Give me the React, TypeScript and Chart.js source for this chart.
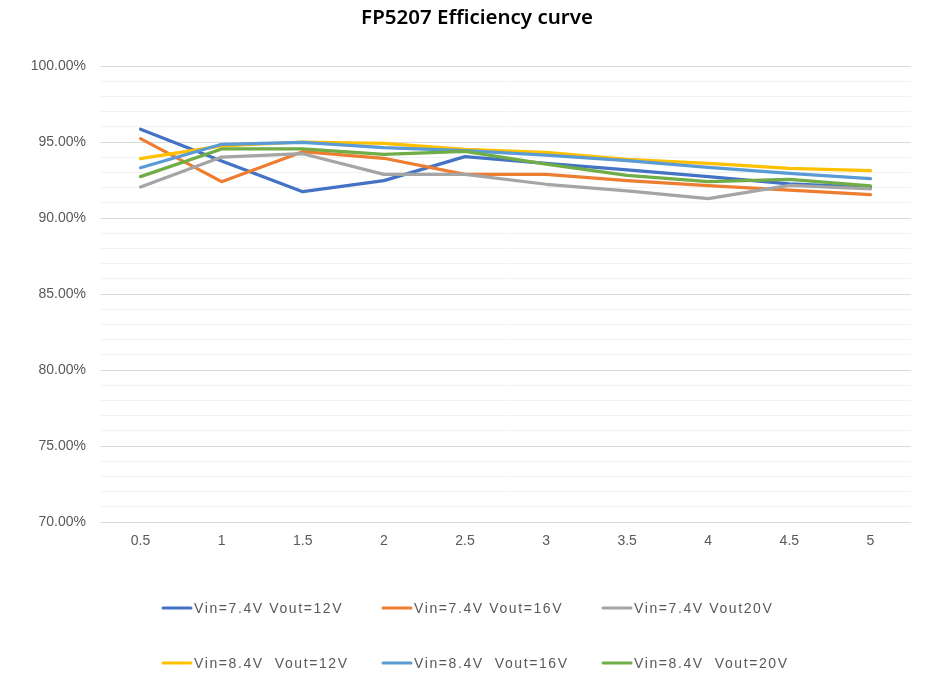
import React, { useEffect, useRef } from 'react';
import { Chart, registerables } from 'chart.js';

Chart.register(...registerables);

const TITLE = 'FP5207 Efficiency curve';
const loadCurrents = ['0.5', '1', '1.5', '2', '2.5', '3', '3.5', '4', '4.5', '5'];
const seriesLabels = [
  'Vin=7.4V Vout=12V',
  'Vin=7.4V Vout=16V',
  'Vin=7.4V Vout20V',
  'Vin=8.4V  Vout=12V',
  'Vin=8.4V  Vout=16V',
  'Vin=8.4V  Vout=20V',
];
const seriesColors = ['#4472C4', '#ED7D31', '#A5A5A5', '#FFC000', '#5B9BD5', '#70AD47'];
const vin74Vout12 = [95.84, 93.75, 91.73, 92.46, 94.04, 93.6, 93.16, 92.72, 92.24, 92.02];
const vin74Vout16 = [95.22, 92.39, 94.36, 93.93, 92.87, 92.87, 92.46, 92.13, 91.84, 91.53];
const vin74Vout20 = [92.04, 94.01, 94.23, 92.87, 92.87, 92.22, 91.78, 91.27, 92.15, 91.91];
const vin84Vout12 = [93.9, 94.75, 95.0, 94.91, 94.52, 94.32, 93.86, 93.6, 93.26, 93.11];
const vin84Vout16 = [93.31, 94.85, 94.98, 94.63, 94.43, 94.14, 93.77, 93.33, 92.94, 92.59];
const vin84Vout20 = [92.72, 94.54, 94.54, 94.19, 94.39, 93.55, 92.81, 92.39, 92.54, 92.11];
const allSeries = [vin74Vout12, vin74Vout16, vin74Vout20, vin84Vout12, vin84Vout16, vin84Vout20];
const yMin = 70;
const yMax = 100;

const W = 925;
const H = 691;

const titleLegendPlugin = {
  id: 'titleLegend',
  afterDraw(chart: any) {
    const ctx = chart.ctx as CanvasRenderingContext2D;
    ctx.save();
    ctx.font = '600 20.5px "Noto Sans", "Liberation Sans", sans-serif';
    ctx.fillStyle = '#000000';
    ctx.textAlign = 'center';
    ctx.textBaseline = 'middle';
    ctx.fillText(TITLE, 477, 18);

    const cols = [162, 382, 602];
    const rows = [608, 663];
    ctx.font = '14px "Liberation Sans", Arial, sans-serif';
    (ctx as any).letterSpacing = '1.6px';
    ctx.textAlign = 'left';
    chart.data.datasets.forEach((ds: any, i: number) => {
      const x = cols[i % 3];
      const y = rows[Math.floor(i / 3)];
      ctx.strokeStyle = ds.borderColor;
      ctx.lineWidth = 3;
      ctx.lineCap = 'round';
      ctx.beginPath();
      ctx.moveTo(x + 1, y);
      ctx.lineTo(x + 29, y);
      ctx.stroke();
      ctx.fillStyle = '#595959';
      ctx.fillText(ds.label, x + 32, y + 1);
    });
    ctx.restore();
  },
};

export default function App() {
  const ref = useRef<HTMLCanvasElement | null>(null);
  useEffect(() => {
    if (!ref.current) return;
    const chart = new Chart(ref.current, {
      type: 'line',
      data: {
        labels: loadCurrents,
        datasets: allSeries.map((d, i) => ({
          label: seriesLabels[i],
          data: d,
          borderColor: seriesColors[i],
          backgroundColor: seriesColors[i],
          borderWidth: 3.25,
          pointRadius: 0,
          pointHoverRadius: 0,
          tension: 0,
          borderCapStyle: 'round',
          borderJoinStyle: 'round',
          fill: false,
          order: -i,
        })),
      },
      options: {
        responsive: false,
        animation: false,
        devicePixelRatio: 1,
        layout: { padding: { top: 66, right: 14, bottom: 139, left: 0 } },
        plugins: {
          legend: { display: false },
          title: { display: false },
          tooltip: { enabled: false },
        },
        scales: {
          x: {
            offset: true,
            grid: { display: false, drawTicks: false },
            border: { display: false },
            ticks: {
              color: '#595959',
              padding: 11,
              font: { family: '"Liberation Sans", Arial, sans-serif', size: 14 },
              maxRotation: 0,
            },
            afterFit: (s: any) => {
              s.height = 30;
              s.paddingLeft = 0;
              s.paddingRight = 0;
            },
          },
          y: {
            min: yMin,
            max: yMax,
            grid: {
              drawTicks: false,
              color: (c: any) => (c.tick && c.tick.value % 5 === 0 ? '#D9D9D9' : '#F2F2F2'),
              lineWidth: 1,
            },
            border: { display: false },
            ticks: {
              stepSize: 1,
              autoSkip: false,
              color: '#595959',
              padding: 14,
              font: { family: '"Liberation Sans", Arial, sans-serif', size: 14 },
              callback: (v: any) => (Number(v) % 5 === 0 ? Number(v).toFixed(2) + '%' : ''),
            },
            afterFit: (s: any) => {
              s.width = 100;
              s.paddingTop = 0;
              s.paddingBottom = 0;
            },
          },
        },
      },
      plugins: [titleLegendPlugin],
    } as any);
    return () => chart.destroy();
  }, []);
  return (
    <div style={{ position: 'fixed', left: 0, top: 0, width: W, height: H, background: '#ffffff' }}>
      <canvas ref={ref} width={W} height={H} style={{ width: W, height: H, display: 'block' }} />
    </div>
  );
}
